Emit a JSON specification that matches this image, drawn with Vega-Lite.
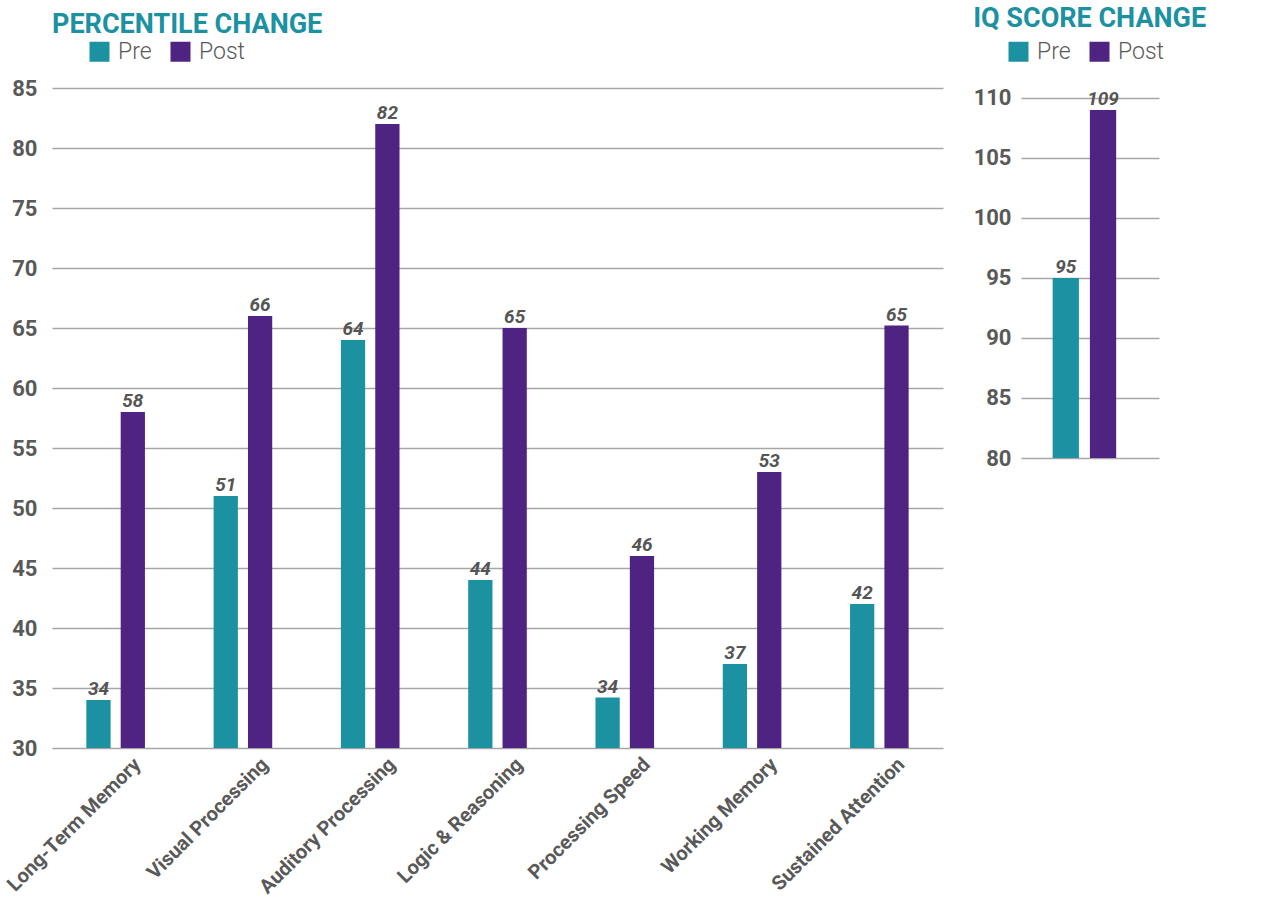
{
  "$schema": "https://vega.github.io/schema/vega-lite/v6.json",
  "padding": {"left": 3, "top": 5, "right": 0, "bottom": 0},
  "background": "white",
  "config": {
    "view": {"stroke": null},
    "font": "Roboto",
    "axisY": {"labelFontSize": 22, "labelFontWeight": "bold", "labelColor": "#595959", "grid": true, "gridColor": "#a6a6a6", "gridWidth": 1.5, "domain": false, "ticks": false, "title": null},
    "axisX": {"labelFontSize": 20, "labelFontWeight": "bold", "labelColor": "#595959", "labelLimit": 400, "grid": false, "domain": false, "ticks": false, "title": null},
    "legend": {"title": null, "orient": "none", "direction": "horizontal", "symbolType": "square", "symbolSize": 400, "symbolStrokeWidth": 0, "labelFontSize": 23, "labelFont": "Roboto", "labelFontWeight": 300, "labelColor": "#595959", "labelOffset": 7, "columnPadding": 17, "padding": 0}
  },
  "datasets": {
    "pct": [
      {"skill": "Long-Term Memory", "phase": "Pre", "value": 34},
      {"skill": "Long-Term Memory", "phase": "Post", "value": 58},
      {"skill": "Visual Processing", "phase": "Pre", "value": 51},
      {"skill": "Visual Processing", "phase": "Post", "value": 66},
      {"skill": "Auditory Processing", "phase": "Pre", "value": 64},
      {"skill": "Auditory Processing", "phase": "Post", "value": 82},
      {"skill": "Logic & Reasoning", "phase": "Pre", "value": 44},
      {"skill": "Logic & Reasoning", "phase": "Post", "value": 65},
      {"skill": "Processing Speed", "phase": "Pre", "value": 34.2},
      {"skill": "Processing Speed", "phase": "Post", "value": 46},
      {"skill": "Working Memory", "phase": "Pre", "value": 37},
      {"skill": "Working Memory", "phase": "Post", "value": 53},
      {"skill": "Sustained Attention", "phase": "Pre", "value": 42},
      {"skill": "Sustained Attention", "phase": "Post", "value": 65.2}
    ],
    "iq": [
      {"skill": "IQ", "phase": "Pre", "value": 95},
      {"skill": "IQ", "phase": "Post", "value": 109}
    ]
  },
  "spacing": 30,
  "resolve": {"scale": {"y": "independent", "x": "independent", "color": "independent", "xOffset": "independent"}, "legend": {"color": "independent"}},
  "hconcat": [
    {
      "width": 891,
      "height": 660,
      "title": {"text": "PERCENTILE CHANGE", "anchor": "start", "frame": "group", "fontSize": 27, "fontWeight": "bold", "font": "Roboto", "color": "#1b91a1", "offset": 1},
      "data": {"name": "pct"},
      "encoding": {
        "x": {"field": "skill", "type": "nominal", "sort": null, "scale": {"paddingInner": 0, "paddingOuter": 0}, "axis": {"labelAngle": -45, "labelOffset": 15, "labelPadding": 6}},
        "xOffset": {"field": "phase", "type": "nominal", "sort": ["Pre", "Post"], "scale": {"paddingInner": 0.294, "paddingOuter": 1.02}},
        "y": {"field": "value", "type": "quantitative", "scale": {"domain": [30, 85], "nice": false, "zero": false}, "axis": {"values": [30, 35, 40, 45, 50, 55, 60, 65, 70, 75, 80, 85], "labelPadding": 15}}
      },
      "layer": [
        {
          "mark": {"type": "bar"},
          "encoding": {
            "y2": {"datum": 30},
            "color": {"field": "phase", "type": "nominal", "sort": ["Pre", "Post"], "scale": {"domain": ["Pre", "Post"], "range": ["#1b91a1", "#4f2381"]}, "legend": {"legendX": 36, "legendY": -48}}
          }
        },
        {
          "mark": {"type": "text", "baseline": "bottom", "dy": -1, "fontSize": 19, "fontWeight": "bold", "fontStyle": "italic", "color": "#555555", "font": "Roboto"},
          "encoding": {"text": {"field": "value", "type": "quantitative", "format": ".0f"}}
        }
      ]
    },
    {
      "width": 138,
      "height": 370,
      "title": {"text": "IQ SCORE CHANGE", "anchor": "start", "frame": "bounds", "fontSize": 27, "fontWeight": "bold", "font": "Roboto", "color": "#1b91a1", "offset": 7},
      "data": {"name": "iq"},
      "encoding": {
        "x": {"field": "skill", "type": "nominal", "scale": {"paddingInner": 0, "paddingOuter": 0}, "axis": null},
        "xOffset": {"field": "phase", "type": "nominal", "sort": ["Pre", "Post"], "scale": {"paddingInner": 0.294, "paddingOuter": 1.176, "align": 0.425}},
        "y": {"field": "value", "type": "quantitative", "scale": {"domain": [80, 110.833], "nice": false, "zero": false}, "axis": {"values": [80, 85, 90, 95, 100, 105, 110], "labelPadding": 10}}
      },
      "layer": [
        {
          "mark": {"type": "bar"},
          "encoding": {
            "y2": {"datum": 80},
            "color": {"field": "phase", "type": "nominal", "sort": ["Pre", "Post"], "scale": {"domain": ["Pre", "Post"], "range": ["#1b91a1", "#4f2381"]}, "legend": {"legendX": -14, "legendY": -48}}
          }
        },
        {
          "mark": {"type": "text", "baseline": "bottom", "dy": -1, "fontSize": 19, "fontWeight": "bold", "fontStyle": "italic", "color": "#555555", "font": "Roboto"},
          "encoding": {"text": {"field": "value", "type": "quantitative", "format": ".0f"}}
        }
      ]
    }
  ]
}
